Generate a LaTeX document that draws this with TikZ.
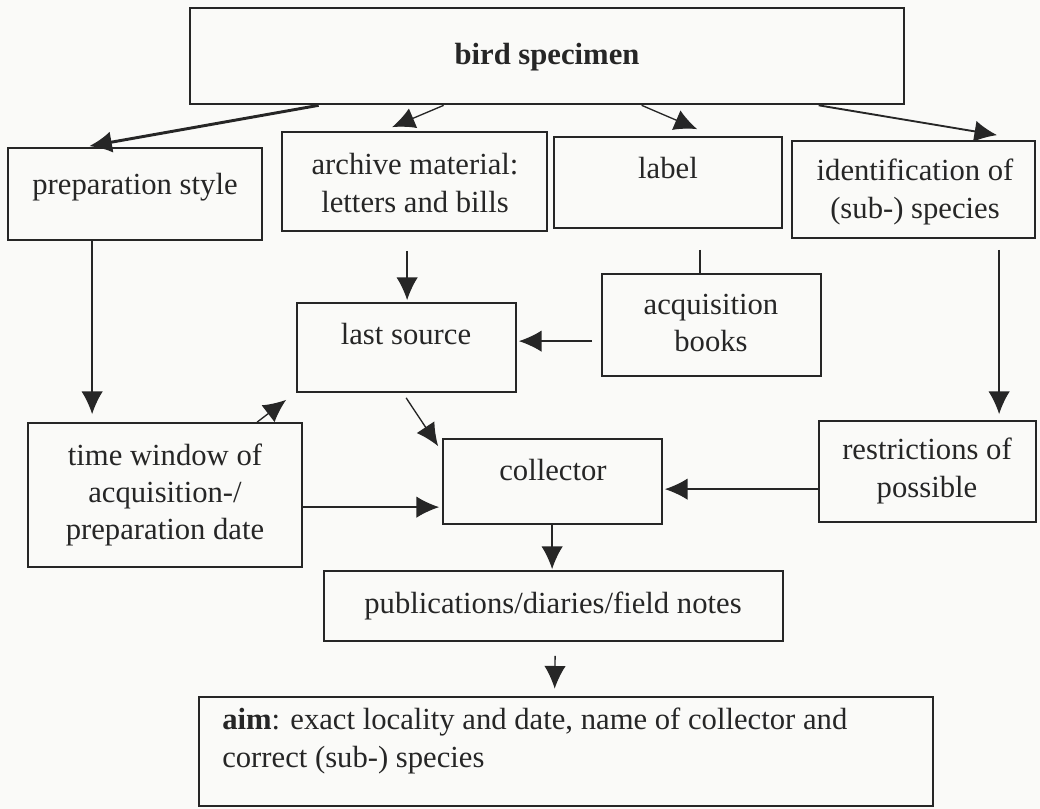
\documentclass[tikz,border=0pt]{standalone}
\usepackage{fontspec}
\setmainfont{Liberation Serif}
\usetikzlibrary{arrows.meta,fit,calc}
\definecolor{bg}{HTML}{FAFAF8}
\definecolor{ink}{HTML}{262626}
\begin{document}
\begin{tikzpicture}[x=0.75pt,y=-0.75pt,
  box/.style={draw=ink,line width=1.3pt,inner sep=0pt,fill=none},
  bigbox/.style={draw=ink,line width=2pt,inner sep=0pt,fill=none},
  txt/.style={text=ink,font=\fontsize{23}{28}\selectfont,align=center,inner sep=0pt},
  arr/.style={draw=ink,line width=1pt,-{Latex[length=17pt,width=16pt]}},
  thickarr/.style={arr,line width=2.2pt},
  ln/.style={draw=ink,line width=1pt}]
\path[fill=bg] (0,0) rectangle (1040,809);
% boxes
\node[bigbox,fit={(190,8)(904,104)}] (bird) {};
\node[box,fit={(8,148)(262,240)}] (prep) {};
\node[box,fit={(282,132)(547,231)}] (arch) {};
\node[box,fit={(554,137)(782,228)}] (label) {};
\node[box,fit={(792,141)(1035,238)}] (ident) {};
\node[box,fit={(297,303)(516,392)}] (last) {};
\node[box,fit={(602,274)(821,376)}] (acq) {};
\node[box,fit={(28,423)(302,567)}] (time) {};
\node[box,fit={(443,439)(662,524)}] (coll) {};
\node[box,fit={(819,421)(1036,522)}] (restr) {};
\node[box,fit={(324,571)(783,641)}] (pub) {};
\node[bigbox,fit={(199,697)(933,806)}] (aim) {};
% texts
\node[txt,font=\fontsize{23}{28}\selectfont\bfseries] (birdt) at (547,57) {bird specimen};
\node[txt] (prept) at (135,187) {preparation style};
\node[txt] (archt) at (415,183) {archive material:\\letters and bills};
\node[txt] (labelt) at (668,168) {label};
\node[txt] (identt) at (915,192) {identification of\\(sub-) species};
\node[txt] (lastt) at (406,334) {last source};
\node[txt] (acqt) at (711,323) {acquisition\\books};
\node[txt] (timet) at (165,495) {time window of\\acquisition-/\\preparation date};
\node[txt] (collt) at (553,470) {collector};
\node[txt] (restrt) at (927,471) {restrictions of\\possible};
\node[txt] (pubt) at (553,606) {publications/diaries/field notes};
\node[txt,align=left,anchor=west] (aimt) at (222,741) {\textbf{aim}: exact locality and date, name of collector and\\correct (sub-) species};
% connectors
\draw[thickarr] ($(bird.south west)+(130,0)$) -- ($(prep.north west)+(82,-1)$);
\draw[arr] ($(bird.south west)+(255,0)$) -- ($(arch.north west)+(111,-4)$);
\draw[arr] ($(bird.south west)+(453,0)$) -- ($(label.north west)+(144,-7)$);
\draw[arr,line width=1.4pt] ($(bird.south west)+(630,0)$) -- ($(ident.north west)+(206,-5)$);
\draw[arr] ($(prep.south west)+(85,0)$) -- ($(time.north west)+(65,-8)$);
\draw[arr] ($(arch.south west)+(126,19)$) -- ($(last.north west)+(111,-2)$);
\draw[ln] ($(label.south west)+(147,21)$) -- ($(acq.north west)+(99,0)$);
\draw[arr] ($(ident.south west)+(208,11)$) -- ($(restr.north west)+(181,-6)$);
\draw[arr] ($(acq.north west)+(-9,68)$) -- ($(last.north east)+(2,39)$);
\draw[arr] ($(last.south west)+(110,5)$) -- ($(coll.north west)+(-4,8)$);
\draw[arr] ($(time.north west)+(230,0)$) -- ($(last.south west)+(-10,7)$);
\draw[arr] ($(time.north east)+(0,85)$) -- ($(coll.north west)+(-3,69)$);
\draw[arr] ($(restr.north west)+(0,69)$) -- ($(coll.north east)+(2,51)$);
\draw[arr] ($(coll.south west)+(110,0)$) -- ($(pub.north west)+(229,-1)$);
\draw[arr] ($(pub.south west)+(232,14)$) -- ($(aim.north west)+(357,-7)$);
\end{tikzpicture}
\end{document}
